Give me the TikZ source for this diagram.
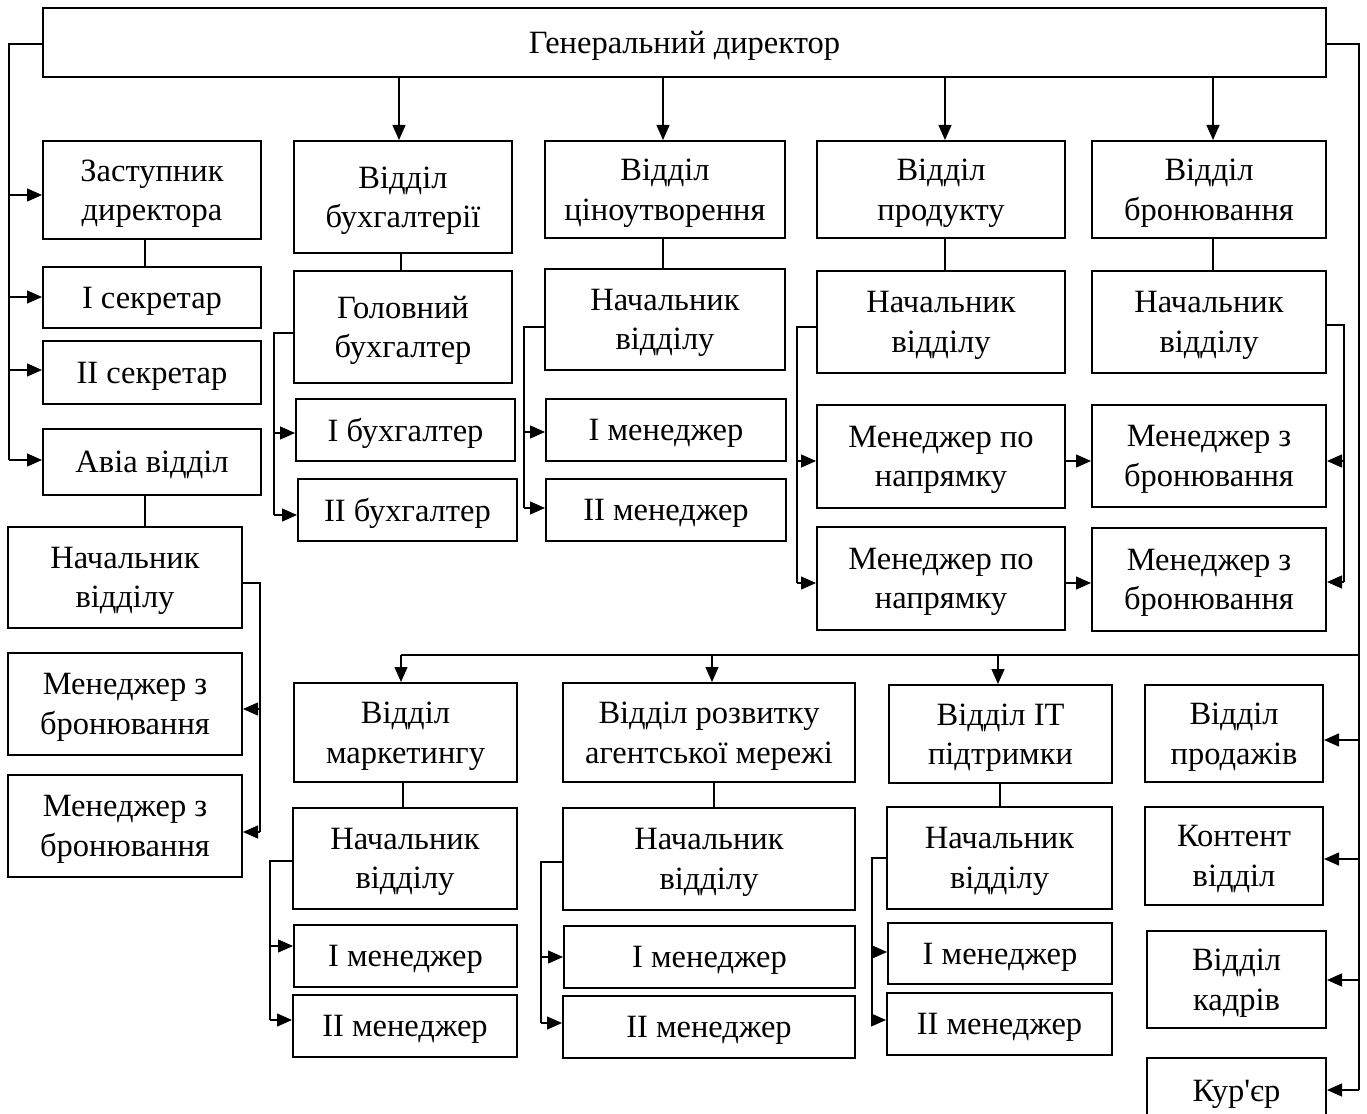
\documentclass[tikz,border=0pt]{standalone}
\usepackage{fontspec}
\setmainfont{Liberation Serif}[Ligatures=TeXOff]
\usetikzlibrary{arrows.meta}
\newcommand\fsz{\fontsize{32.5}{39.5}\selectfont}
\tikzset{
  box/.style={draw, line width=2pt, inner sep=1pt, align=center, font=\fsz, text depth=0pt},
  ln/.style={line width=1.3pt},
  arr/.style={line width=1.3pt, -{Triangle[length=15pt,width=13pt]}}
}
\newcommand\bx[6]{\node[box,minimum width={(#4-#2)*1pt},minimum height={(#5-#3)*1pt}] (#1) at ({(#2+#4)/2},{(#3+#5)/2}) {#6};}
\begin{document}
\begin{tikzpicture}[x=1pt,y=-1pt]
\path[fill=white,use as bounding box] (0,0) rectangle (1367,1113);
% boxes
\bx{gen}{43}{8}{1326}{77}{Генеральний директор}
\bx{zast}{43}{141}{261}{239}{Заступник\\директора}
\bx{sec1}{43}{267}{261}{328}{I секретар}
\bx{sec2}{43}{341}{261}{404}{II секретар}
\bx{avia}{43}{429}{261}{495}{Авіа відділ}
\bx{avnach}{8}{527}{242}{628}{Начальник\\відділу}
\bx{avm1}{8}{653}{242}{755}{Менеджер з\\бронювання}
\bx{avm2}{8}{775}{242}{877}{Менеджер з\\бронювання}
\bx{buh}{294}{141}{512}{253}{Відділ\\бухгалтерії}
\bx{golbuh}{294}{271}{512}{383}{Головний\\бухгалтер}
\bx{buh1}{296}{399}{515}{461}{I бухгалтер}
\bx{buh2}{298}{479}{517}{541}{II бухгалтер}
\bx{cin}{545}{141}{785}{238}{Відділ\\ціноутворення}
\bx{cinnach}{545}{269}{785}{370}{Начальник\\відділу}
\bx{cinm1}{546}{399}{786}{461}{I менеджер}
\bx{cinm2}{546}{479}{786}{541}{II менеджер}
\bx{prod}{817}{141}{1065}{238}{Відділ\\продукту}
\bx{prodnach}{817}{271}{1065}{373}{Начальник\\відділу}
\bx{prodm1}{817}{405}{1065}{508}{Менеджер по\\напрямку}
\bx{prodm2}{817}{527}{1065}{630}{Менеджер по\\напрямку}
\bx{bron}{1092}{141}{1326}{238}{Відділ\\бронювання}
\bx{bronnach}{1092}{271}{1326}{373}{Начальник\\відділу}
\bx{bronm1}{1092}{405}{1326}{507}{Менеджер з\\бронювання}
\bx{bronm2}{1092}{528}{1326}{631}{Менеджер з\\бронювання}
\bx{mark}{294}{683}{517}{782}{Відділ\\маркетингу}
\bx{marknach}{293}{808}{517}{909}{Начальник\\відділу}
\bx{markm1}{294}{925}{517}{987}{I менеджер}
\bx{markm2}{293}{995}{517}{1057}{II менеджер}
\bx{rozv}{563}{683}{855}{782}{Відділ розвитку\\агентської мережі}
\bx{rozvnach}{563}{808}{855}{910}{Начальник\\відділу}
\bx{rozvm1}{564}{926}{855}{988}{I менеджер}
\bx{rozvm2}{563}{996}{855}{1058}{II менеджер}
\bx{it}{889}{685}{1112}{783}{Відділ IT\\підтримки}
\bx{itnach}{887}{807}{1112}{909}{Начальник\\відділу}
\bx{itm1}{888}{923}{1112}{984}{I менеджер}
\bx{itm2}{887}{993}{1112}{1055}{II менеджер}
\bx{prodazh}{1145}{685}{1323}{782}{Відділ\\продажів}
\bx{kontent}{1145}{807}{1323}{905}{Контент\\відділ}
\bx{kadry}{1147}{931}{1326}{1028}{Відділ\\кадрів}
\bx{kurier}{1147}{1058}{1326}{1124}{Кур'єр}
% left bus
\coordinate (lb) at (9,44);
\draw[ln] (gen.west |- lb) -- (lb) -- (9,460);
\draw[arr] (9,195) -- (zast.west |- 0,195);
\draw[arr] (9,297) -- (sec1.west |- 0,297);
\draw[arr] (9,370) -- (sec2.west |- 0,370);
\draw[arr] (9,460) -- (avia.west |- 0,460);
\draw[ln] (zast.south -| 145,0) -- (sec1.north -| 145,0);
\draw[ln] (avia.south -| 145,0) -- (avnach.north -| 145,0);
\draw[ln] (avnach.east |- 0,583) -- (260,583) -- (260,832);
\draw[arr] (260,709) -- (avm1.east |- 0,709);
\draw[arr] (260,832) -- (avm2.east |- 0,832);
% right bus
\coordinate (rb) at (1359,44);
\draw[ln] (gen.east |- rb) -- (rb) -- (1359,1090);
\draw[arr] (1359,740) -- (prodazh.east |- 0,740);
\draw[arr] (1359,859) -- (kontent.east |- 0,859);
\draw[arr] (1359,980) -- (kadry.east |- 0,980);
\draw[arr] (1359,1090) -- (kurier.east |- 0,1090);
\draw[ln] (1359,655) -- (401,655);
\draw[arr] (401,655) -- (mark.north -| 401,0);
\draw[arr] (712,655) -- (rozv.north -| 712,0);
\draw[arr] (998,655) -- (it.north -| 998,0);
% top arrows
\draw[arr] (gen.south -| 399,0) -- (buh.north -| 399,0);
\draw[arr] (gen.south -| 663,0) -- (cin.north -| 663,0);
\draw[arr] (gen.south -| 945,0) -- (prod.north -| 945,0);
\draw[arr] (gen.south -| 1213,0) -- (bron.north -| 1213,0);
% vertical links
\draw[ln] (buh.south -| 401,0) -- (golbuh.north -| 401,0);
\draw[ln] (cin.south -| 663,0) -- (cinnach.north -| 663,0);
\draw[ln] (prod.south -| 945,0) -- (prodnach.north -| 945,0);
\draw[ln] (bron.south -| 1213,0) -- (bronnach.north -| 1213,0);
\draw[ln] (mark.south -| 403,0) -- (marknach.north -| 403,0);
\draw[ln] (rozv.south -| 714,0) -- (rozvnach.north -| 714,0);
\draw[ln] (it.south -| 1000,0) -- (itnach.north -| 1000,0);
% brackets
\draw[ln] (golbuh.west |- 0,333) -- (274,333) -- (274,515);
\draw[arr] (274,433) -- (buh1.west |- 0,433);
\draw[arr] (274,515) -- (buh2.west |- 0,515);
\draw[ln] (cinnach.west |- 0,327) -- (524,327) -- (524,508);
\draw[arr] (524,432) -- (cinm1.west |- 0,432);
\draw[arr] (524,508) -- (cinm2.west |- 0,508);
\draw[ln] (prodnach.west |- 0,327) -- (797,327) -- (797,583);
\draw[arr] (797,461) -- (prodm1.west |- 0,461);
\draw[arr] (797,583) -- (prodm2.west |- 0,583);
\draw[arr] (prodm1.east |- 0,461) -- (bronm1.west |- 0,461);
\draw[arr] (prodm2.east |- 0,583) -- (bronm2.west |- 0,583);
\draw[ln] (bronnach.east |- 0,325) -- (1344,325) -- (1344,582);
\draw[arr] (1344,461) -- (bronm1.east |- 0,461);
\draw[arr] (1344,582) -- (bronm2.east |- 0,582);
\draw[ln] (marknach.west |- 0,861) -- (270,861) -- (270,1020);
\draw[arr] (270,946) -- (markm1.west |- 0,946);
\draw[arr] (270,1020) -- (markm2.west |- 0,1020);
\draw[ln] (rozvnach.west |- 0,862) -- (541,862) -- (541,1023);
\draw[arr] (541,957) -- (rozvm1.west |- 0,957);
\draw[arr] (541,1023) -- (rozvm2.west |- 0,1023);
\draw[ln] (itnach.west |- 0,858) -- (872,858) -- (872,1020);
\draw[arr] (872,952) -- (itm1.west |- 0,952);
\draw[arr] (872,1020) -- (itm2.west |- 0,1020);
\end{tikzpicture}
\end{document}
